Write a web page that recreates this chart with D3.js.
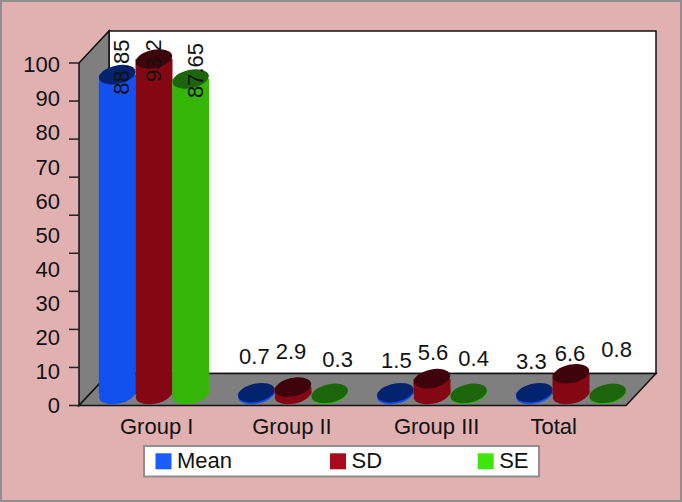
<!DOCTYPE html>
<html>
<head>
<meta charset="utf-8">
<script src="https://cdnjs.cloudflare.com/ajax/libs/d3/7.8.5/d3.min.js"></script>
<style>
  html, body { margin: 0; padding: 0; background: #e1b1b2; }
  text { font-family: "Liberation Sans", Arial, sans-serif; fill: #111; }
</style>
</head>
<body>
<div id="chart"></div>
<script>
var categories = ["Group I", "Group II", "Group III", "Total"];
var seriesNames = ["Mean", "SD", "SE"];
// the numbers printed on the chart
var meanLabels = [88.85, 0.7, 1.5, 3.3];
var sdLabels = [93.2, 2.9, 5.6, 6.6];
var seLabels = [87.65, 0.3, 0.4, 0.8];
// the heights the cylinders are really drawn at
// (they don't follow the printed numbers for the small ones)
var meanHeights = [88.85, 0.5, 0.5, 0.5];
var sdHeights = [93.2, 2.05, 4.4, 5.75];
var seHeights = [87.65, 0.3, 0.3, 0.3];
var tickLabels = [0, 10, 20, 30, 40, 50, 60, 70, 80, 90, 100];

var bodyColors = ["#1250f0", "#850714", "#34b508"];
var topColors = ["#04236f", "#3f040b", "#1d650a"];
var legendColors = ["#1a5cff", "#a90a1c", "#3fe60c"];

var svg = d3.select("#chart").append("svg")
  .attr("width", 682).attr("height", 502);

// pink page with grey frame
svg.append("rect")
  .attr("x", 1).attr("y", 1).attr("width", 680).attr("height", 500)
  .attr("fill", "#e1b1b2").attr("stroke", "#8f8f8f").attr("stroke-width", 2);

var x0 = 79, x1 = 626, yBase = 405.5, yTop = 63;
var dx = 30, dy = 32;

var x = d3.scaleBand().domain(categories).range([79, 635]);
var xSeries = d3.scaleBand().domain(seriesNames).range([20, 130]);
// cylinders sit on their own scale, the base ellipse is above the front edge
var y = d3.scaleLinear().domain([0, 100]).range([394.5, 34.5]);
var yLabel = d3.scaleLinear().domain([0, 100]).range([405, 64.3]);

// back wall
svg.append("rect")
  .attr("x", x0 + dx).attr("y", yTop - dy).attr("width", x1 - x0)
  .attr("height", yBase - yTop)
  .attr("fill", "#fff").attr("stroke", "#111").attr("stroke-width", 1.5);

// side wall
svg.append("path")
  .attr("d", d3.line()([[x0, yTop], [x0 + dx, yTop - dy], [x0 + dx, yBase - dy], [x0, yBase]]) + "Z")
  .attr("fill", "#7f7f7f").attr("stroke", "#111").attr("stroke-width", 1.5);

// floor
svg.append("path")
  .attr("d", d3.line()([[x0, yBase], [x0 + dx, yBase - dy], [x1 + dx, yBase - dy], [x1, yBase]]) + "Z")
  .attr("fill", "#7f7f7f").attr("stroke", "#111").attr("stroke-width", 1.5);

// axis, the tick marks do not line up with the labels in the original
var tickCount = 9;
var tickY = d3.scaleLinear().domain([0, tickCount]).range([yBase, yTop]);
svg.selectAll(".tick-mark").data(d3.range(tickCount + 1)).enter().append("line")
  .attr("class", "tick-mark")
  .attr("x1", 69).attr("x2", x0)
  .attr("y1", function(d) { return tickY(d); })
  .attr("y2", function(d) { return tickY(d); })
  .attr("stroke", "#222").attr("stroke-width", 1.5);

svg.selectAll(".tick-label").data(tickLabels).enter().append("text")
  .attr("class", "tick-label")
  .attr("x", 60)
  .attr("y", function(d) { return yLabel(d) + 8; })
  .attr("text-anchor", "end")
  .attr("font-size", 22)
  .text(function(d) { return d; });

// cylinders
var heights = [meanHeights, sdHeights, seHeights];
var labels = [meanLabels, sdLabels, seLabels];
var rx = 18.5, ry = 9.2, tilt = -12;
function centerX(s, c) {
  return x(categories[c]) + xSeries(seriesNames[s]) + xSeries.bandwidth() / 2;
}
seriesNames.forEach(function(name, s) {
  var g = svg.append("g");
  categories.forEach(function(cat, c) {
    var cx = centerX(s, c);
    var bottom = y(0);
    var top = y(heights[s][c]);
    g.append("ellipse")
      .attr("cx", cx).attr("cy", bottom).attr("rx", rx).attr("ry", ry)
      .attr("transform", "rotate(" + tilt + " " + cx + " " + bottom + ")")
      .attr("fill", bodyColors[s]);
    g.append("rect")
      .attr("x", cx - rx).attr("y", top)
      .attr("width", rx * 2).attr("height", bottom - top)
      .attr("fill", bodyColors[s]);
    g.append("ellipse")
      .attr("cx", cx).attr("cy", top).attr("rx", rx).attr("ry", ry)
      .attr("transform", "rotate(" + tilt + " " + cx + " " + top + ")")
      .attr("fill", topColors[s]);
  });
});

// value labels were hand placed in the original, so nudge them
var rotatedDx = [11.5, 6.5, 12];
var rotatedDy = [20, 23, 19];
var labelDx = [[0, -2, 1, -3], [0, -2, 1, -1], [0, 8, 5, 9]];
var labelBaseline = [[0, 364, 367.7, 369], [0, 359, 360, 361], [0, 367, 365.7, 357.3]];
seriesNames.forEach(function(name, s) {
  categories.forEach(function(cat, c) {
    var cx = centerX(s, c);
    if (c === 0) {
      svg.append("text")
        .attr("transform", "translate(" + (cx + rotatedDx[s]) + "," + (y(heights[s][c]) + rotatedDy[s]) + ") rotate(-90)")
        .attr("font-size", 22)
        .text(labels[s][c]);
    } else {
      svg.append("text")
        .attr("x", cx + labelDx[s][c])
        .attr("y", labelBaseline[s][c])
        .attr("text-anchor", "middle")
        .attr("font-size", 22)
        .text(labels[s][c]);
    }
  });
});

// category labels
var catLabelX = d3.scaleOrdinal(categories, [156.7, 292, 436.7, 553.7]);
svg.selectAll(".cat-label").data(categories).enter().append("text")
  .attr("class", "cat-label")
  .attr("x", function(d) { return catLabelX(d); })
  .attr("y", 434)
  .attr("text-anchor", "middle")
  .attr("font-size", 22)
  .text(function(d) { return d; });

// legend
svg.append("rect")
  .attr("x", 144).attr("y", 446).attr("width", 395).attr("height", 30.5)
  .attr("fill", "#fff").attr("stroke", "#8f8f8f").attr("stroke-width", 2);
var legendX = d3.scaleOrdinal(seriesNames, [155.5, 330, 477.7]);
seriesNames.forEach(function(name, s) {
  svg.append("rect")
    .attr("x", legendX(name)).attr("y", 453.3)
    .attr("width", 16).attr("height", 16)
    .attr("fill", legendColors[s]);
  svg.append("text")
    .attr("x", legendX(name) + 21.5).attr("y", 467.5)
    .attr("font-size", 22)
    .text(name);
});
</script>
</body>
</html>
